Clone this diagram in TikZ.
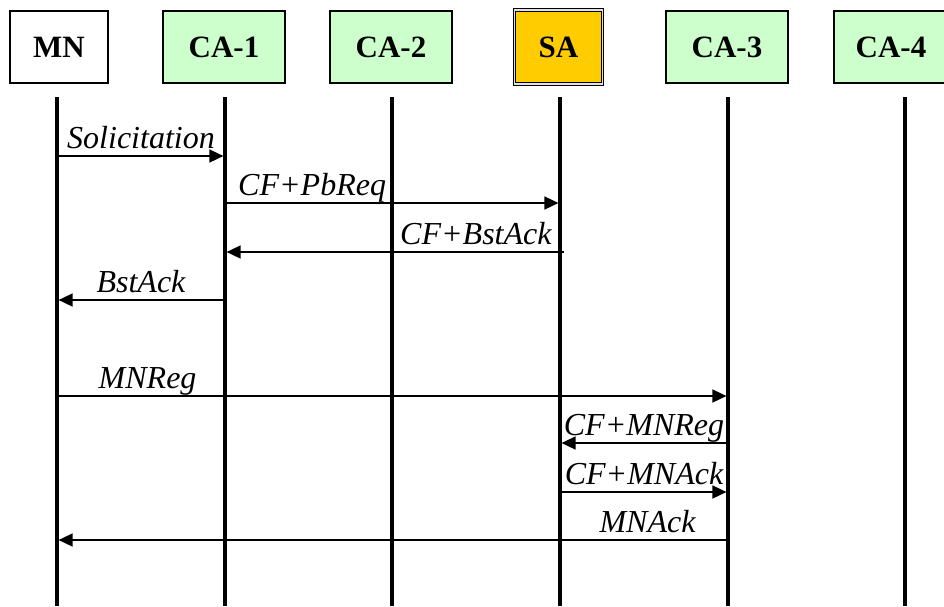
\documentclass[tikz,border=0pt]{standalone}
\usepackage{fontspec}
\setmainfont{Liberation Serif}
\usepackage{xcolor}
\usetikzlibrary{arrows.meta,positioning}
\definecolor{agentgreen}{HTML}{CCFFCC}
\definecolor{servergold}{HTML}{FFCC00}
\tikzset{
  actor/.style={
    draw,
    line width=1.4pt,
    fill=agentgreen,
    font=\fontsize{31}{36}\selectfont\bfseries,
    minimum width=122pt,
    minimum height=72pt,
    inner sep=0pt
  },
  mobile/.style={actor, fill=white, minimum width=98pt},
  server/.style={actor, fill=servergold, minimum width=88pt, minimum height=74pt,
    double=black!12, double distance=1.5pt, line width=1.1pt},
  lifeline/.style={line width=3.4pt},
  msg/.style={-{Triangle[length=14pt,width=13pt]}, line width=1.6pt, shorten >=1.6pt},
  lbl/.style={font=\fontsize{32}{38}\selectfont\itshape, anchor=base, yshift=8pt, inner sep=0pt}
}

\begin{document}
\begin{tikzpicture}[x=1pt,y=-1pt]
  \useasboundingbox (0,0) rectangle (944,606);

  % header boxes
  \node[mobile] (mn) at (59,47) {MN};
  \node[actor] (ca1) at (224,47) {CA-1};
  \node[actor] (ca2) at (391,47) {CA-2};
  \node[server] (sa) at (558.5,47) {SA};
  \node[actor] (ca3) at (727,47) {CA-3};
  \node[actor, minimum width=114pt] (ca4) at (891,47) {CA-4};

  % lifelines
  \foreach \n/\x in {mn/57, ca1/225, ca2/392, sa/560, ca3/728, ca4/905}
    \draw[lifeline] (\x,97) coordinate (\n line) -- (\x,606);

  % message rows
  \foreach \r/\y in {1/156, 2/203, 3/252, 4/300, 5/396, 6/443, 7/492, 8/540}
    \coordinate (row\r) at (0,\y);

  \draw[msg] (mnline |- row1) -- node[lbl, pos=.5] {Solicitation} (ca1line |- row1);
  \draw[msg] (ca1line |- row2) -- node[lbl, pos=.26] {CF+PbReq} (saline |- row2);
  \draw[msg] ([xshift=4pt]saline |- row3) -- node[lbl, pos=.26] {CF+BstAck} (ca1line |- row3);
  \draw[msg] (ca1line |- row4) -- node[lbl, pos=.5] {BstAck} (mnline |- row4);
  \draw[msg] (mnline |- row5) -- node[lbl, pos=.135] {MNReg} (ca3line |- row5);
  \draw[msg] (ca3line |- row6) -- node[lbl, pos=.5] {CF+MNReg} (saline |- row6);
  \draw[msg] (saline |- row7) -- node[lbl, pos=.5] {CF+MNAck} (ca3line |- row7);
  \draw[msg] (ca3line |- row8) -- node[lbl, pos=.12] {MNAck} (mnline |- row8);
\end{tikzpicture}
\end{document}
